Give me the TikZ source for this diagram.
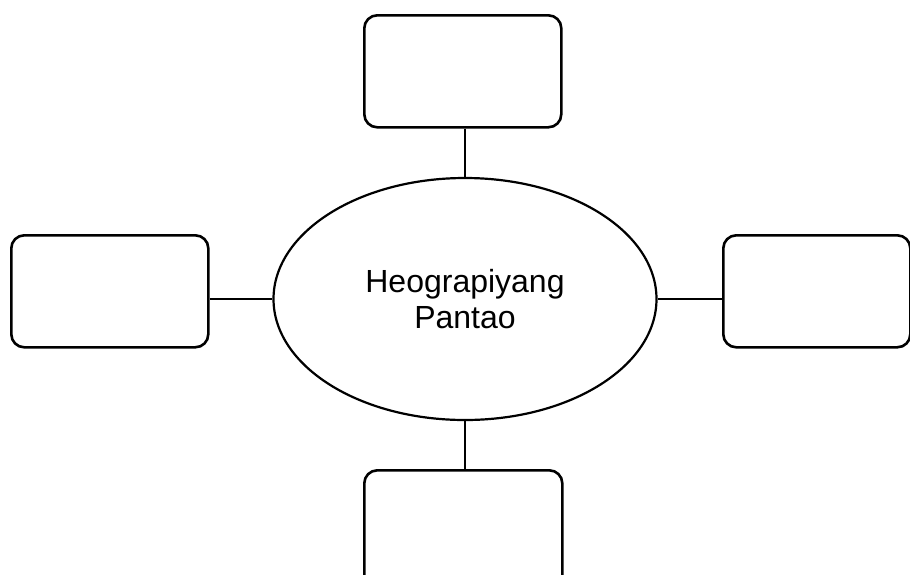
\documentclass[tikz,border=0pt]{standalone}
\usepackage{fontspec}
\setmainfont{Liberation Sans}
\usetikzlibrary{shapes.geometric}
\begin{document}
\begin{tikzpicture}[x=1pt,y=-1pt,
  box/.style={draw=black,line width=2.6pt,rounded corners=13pt,inner sep=0pt,anchor=north west},
  link/.style={draw=black,line width=2.2pt}]
\useasboundingbox (0,0) rectangle (910,574);
\node[draw=black,line width=2.2pt,ellipse,minimum width=383pt,minimum height=242pt,inner sep=0pt,
  align=center,font=\fontsize{32pt}{36pt}\selectfont] (c) at (465,299) {Heograpiyang\\Pantao};
\node[box,minimum width=197pt,minimum height=112pt] (top) at (363,14) {};
\node[box,minimum width=197pt,minimum height=112pt] (left) at (10,234) {};
\node[box,minimum width=187pt,minimum height=112pt] (right) at (722,234) {};
\node[box,minimum width=198pt,minimum height=125pt] (bottom) at (363,469) {};
\draw[link] (top.south -| c.north) -- (c.north);
\draw[link] (c.south) -- (bottom.north -| c.south);
\draw[link] (left.east |- c.west) -- (c.west);
\draw[link] (c.east) -- (right.west |- c.east);
\end{tikzpicture}
\end{document}
